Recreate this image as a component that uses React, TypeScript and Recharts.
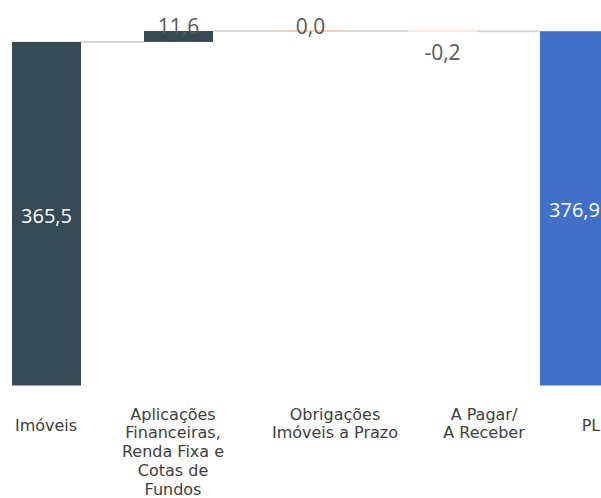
import React from 'react';
import { BarChart, Bar, XAxis, YAxis, LabelList } from 'recharts';

// ---- data ----
const categories = [
  'Imóveis',
  'Aplicações Financeiras, Renda Fixa e Cotas de Fundos',
  'Obrigações Imóveis a Prazo',
  'A Pagar/ A Receber',
  'PL',
];
const tickLines = [
  ['Imóveis'],
  ['Aplicações', 'Financeiras,', 'Renda Fixa e', 'Cotas de', 'Fundos'],
  ['Obrigações', 'Imóveis a Prazo'],
  ['A Pagar/', 'A Receber'],
  ['PL'],
];
const values = [365.5, 11.6, 0.0, -0.2, 376.9];
const isTotal = [true, false, false, false, true];

// ---- styles ----
const barColors = ['#364A55', '#364A55', '#F6C3A2', '#FCE6D8', '#4170C8'];
const tickShift = [0, -5, 25, 42, 17];
const CHART_W = 660;
const CHART_H = 498;
const BAR_SIZE = 69;
const BAND = CHART_W / categories.length;

let running = 0;
const data = categories.map((name, i) => {
  const v = values[i];
  let start: number;
  let end: number;
  if (isTotal[i]) {
    start = 0;
    end = v;
  } else {
    start = running;
    end = running + v;
  }
  running = end;
  return {
    name,
    value: v,
    idx: i,
    range: [Math.min(start, end), Math.max(start, end)],
  };
});

const fmt = (v: number) => v.toFixed(1).replace('.', ',');

const WaterfallShape = (props: any) => {
  const { x, y, width, height, payload } = props;
  const i = payload.idx;
  const minH = 1.5;
  const h = Math.max(height, minH);
  const ry = height < minH ? y + height / 2 - minH / 2 : y;
  const endPx = payload.value >= 0 ? y : y + height;
  const gap = BAND - width;
  return (
    <g>
      {i < categories.length - 1 && (
        <line
          x1={x + width}
          x2={x + width + gap}
          y1={endPx}
          y2={endPx}
          stroke="#D9D9D9"
          strokeWidth={2}
        />
      )}
      <rect x={x} y={ry} width={width} height={h} fill={barColors[i]} />
    </g>
  );
};

const renderLabel = (props: any) => {
  const { x, y, width, height, value, index } = props;
  const cx = x + width / 2;
  if (isTotal[index]) {
    return (
      <text x={cx} y={y + height / 2 + 9} fill="#FFFFFF" fontSize={20} textAnchor="middle" fontFamily="Open Sans">
        {fmt(value)}
      </text>
    );
  }
  if (value < 0) {
    return (
      <text x={cx} y={y + height + 28.5} fill="#595959" fontSize={21} textAnchor="middle" fontFamily="Open Sans">
        {fmt(value)}
      </text>
    );
  }
  return (
    <text x={cx} y={y + 3} fill="#595959" fontSize={21} textAnchor="middle" fontFamily="Open Sans">
      {fmt(value)}
    </text>
  );
};

const CategoryTick = (props: any) => {
  const { x, y, payload } = props;
  const i = categories.indexOf(payload.value);
  const lines = tickLines[i] || [String(payload.value)];
  const cx = x + (tickShift[i] || 0);
  const base = lines.length === 1 ? y + 45 : y + 34;
  return (
    <text textAnchor="middle" fontFamily="DejaVu Sans" fontSize={16} fill="#404040">
      {lines.map((l, k) => (
        <tspan key={k} x={cx} y={base + k * 18.8}>
          {l}
        </tspan>
      ))}
    </text>
  );
};

export default function App() {
  return (
    <div
      style={{
        position: 'fixed',
        left: 0,
        top: 0,
        width: 601,
        height: 498,
        overflow: 'hidden',
        background: '#FFFFFF',
      }}
    >
      <div style={{ position: 'absolute', left: -20.5, top: 0 }}>
        <BarChart
          width={CHART_W}
          height={CHART_H}
          data={data}
          margin={{ top: 9.5, right: 0, left: 0, bottom: 0 }}
          barSize={BAR_SIZE}
        >
          <XAxis
            dataKey="name"
            height={112.5}
            axisLine={false}
            tickLine={false}
            tickSize={0}
            tickMargin={0}
            interval={0}
            tick={<CategoryTick />}
          />
          <YAxis hide domain={[0, 400]} />
          <Bar dataKey="range" isAnimationActive={false} shape={<WaterfallShape />}>
            <LabelList dataKey="value" content={renderLabel} />
          </Bar>
        </BarChart>
      </div>
    </div>
  );
}
